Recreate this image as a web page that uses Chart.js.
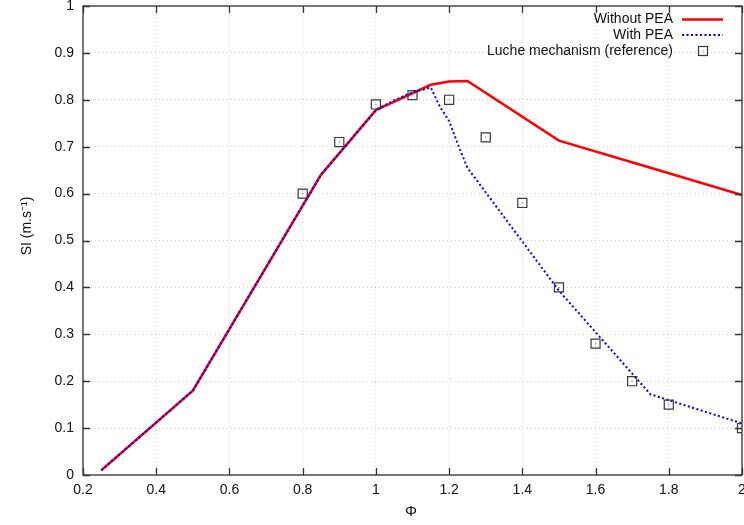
<!DOCTYPE html>
<html><head><meta charset="utf-8">
<script src="https://cdn.jsdelivr.net/npm/chart.js@4/dist/chart.umd.min.js"></script>
<style>html,body{margin:0;padding:0;background:#fff;overflow:hidden}canvas{display:block}</style>
</head><body>
<canvas id="c" width="744" height="525"></canvas>
<script>
// ---- data ----
const phiWithout = [0.25, 0.5, 0.85, 1.0, 1.15, 1.2, 1.25, 1.5, 1.75, 2.0];
const siWithout  = [0.01, 0.18, 0.64, 0.778, 0.832, 0.839, 0.84, 0.713, 0.655, 0.597];
const phiWith = [0.25, 0.5, 0.85, 1.0, 1.05, 1.1, 1.15, 1.175, 1.2, 1.225, 1.25, 1.5, 1.75, 2.0];
const siWith  = [0.01, 0.18, 0.64, 0.778, 0.799, 0.816, 0.826, 0.785, 0.755, 0.703, 0.655, 0.393, 0.172, 0.11];
const phiRef = [0.8, 0.9, 1.0, 1.1, 1.2, 1.3, 1.4, 1.5, 1.6, 1.7, 1.8, 2.0];
const siRef  = [0.60, 0.71, 0.79, 0.81, 0.80, 0.72, 0.58, 0.40, 0.28, 0.20, 0.15, 0.10];
const xTickValues = [0.2, 0.4, 0.6, 0.8, 1.0, 1.2, 1.4, 1.6, 1.8, 2.0];
const xTickLabels = ['0.2', '0.4', '0.6', '0.8', '1', '1.2', '1.4', '1.6', '1.8', '2'];
const yTickValues = [0, 0.1, 0.2, 0.3, 0.4, 0.5, 0.6, 0.7, 0.8, 0.9, 1.0];
const yTickLabels = ['0', '0.1', '0.2', '0.3', '0.4', '0.5', '0.6', '0.7', '0.8', '0.9', '1'];
const seriesNames = ['Without PEA', 'With PEA', 'Luche mechanism (reference)'];
const xTitle = 'Φ';
const yTitle = 'SI (m.s⁻¹)';

const FONT = '"Liberation Sans", Arial, Helvetica, sans-serif';
const TXT = '#111';
const pts = (xs, ys) => xs.map((x, i) => ({x: x, y: ys[i]}));

const RED = 'rgb(255,0,0)';
const BLUE = 'rgb(0,0,255)';
const SQ = '#3a3a3a';

const zeroPad = s => { s.paddingLeft = 0; s.paddingRight = 0; s.paddingTop = 0; s.paddingBottom = 0; };

const decorations = {
  id: 'decorations',
  afterDraw(chart) {
    const ctx = chart.ctx;
    const a = chart.chartArea;
    const xs = chart.scales.x, ys = chart.scales.y;
    ctx.save();
    ctx.strokeStyle = '#333';
    ctx.lineWidth = 1.3;
    ctx.setLineDash([]);
    ctx.strokeRect(a.left, a.top, a.right - a.left, a.bottom - a.top);
    ctx.beginPath();
    xTickValues.forEach(v => {
      const p = Math.round(xs.getPixelForValue(v)) + 0.5;
      ctx.moveTo(p, a.bottom); ctx.lineTo(p, a.bottom - 7);
      ctx.moveTo(p, a.top); ctx.lineTo(p, a.top + 7);
    });
    yTickValues.forEach(v => {
      const p = Math.round(ys.getPixelForValue(v)) + 0.5;
      ctx.moveTo(a.left, p); ctx.lineTo(a.left + 7, p);
      ctx.moveTo(a.right, p); ctx.lineTo(a.right - 7, p);
    });
    ctx.stroke();
    ctx.fillStyle = TXT;
    ctx.font = '15px ' + FONT;
    ctx.textAlign = 'center';
    ctx.textBaseline = 'middle';
    ctx.fillText(xTitle, 411, 512);
    ctx.save();
    ctx.translate(27, 226);
    ctx.rotate(-Math.PI / 2);
    ctx.font = '14px ' + FONT;
    ctx.fillText(yTitle, 0, 0);
    ctx.restore();
    ctx.font = '14px ' + FONT;
    ctx.textAlign = 'right';
    ctx.textBaseline = 'middle';
    const rows = [19, 35, 51];
    rows.forEach((y, i) => ctx.fillText(seriesNames[i], 673, y));
    ctx.lineWidth = 2.5; ctx.strokeStyle = RED;
    ctx.beginPath(); ctx.moveTo(682, 19.5); ctx.lineTo(723, 19.5); ctx.stroke();
    ctx.lineWidth = 2; ctx.strokeStyle = BLUE; ctx.setLineDash([2, 2.5]);
    ctx.beginPath(); ctx.moveTo(682, 35); ctx.lineTo(723, 35); ctx.stroke();
    ctx.setLineDash([]);
    ctx.lineWidth = 1.2; ctx.strokeStyle = SQ;
    ctx.strokeRect(698.5, 46.5, 9, 9);
    ctx.fillStyle = '#777';
    ctx.fillRect(702.5, 50.5, 1, 1);
    ctx.restore();
  }
};

new Chart(document.getElementById('c'), {
  type: 'scatter',
  data: {
    datasets: [
      {
        label: seriesNames[0], data: pts(phiWithout, siWithout), showLine: true,
        borderColor: RED, backgroundColor: RED, borderWidth: 2.5, pointRadius: 0,
        tension: 0, order: 3
      },
      {
        label: seriesNames[1], data: pts(phiWith, siWith), showLine: true,
        borderColor: BLUE, backgroundColor: BLUE, borderWidth: 2, borderDash: [2, 2.5],
        pointRadius: 0, tension: 0, order: 2
      },
      {
        label: seriesNames[2], data: pts(phiRef, siRef), showLine: false,
        pointStyle: 'rect', pointRadius: 6.4, pointBorderWidth: 1.2,
        pointBorderColor: SQ, pointBackgroundColor: 'rgba(0,0,0,0)', order: 1
      },
      {
        label: 'centre', data: pts(phiRef, siRef), showLine: false,
        pointStyle: 'circle', pointRadius: 0.7, pointBorderWidth: 0,
        pointBackgroundColor: '#888', order: 0
      }
    ]
  },
  options: {
    responsive: false,
    animation: false,
    devicePixelRatio: 1,
    layout: { autoPadding: false, padding: { left: 0, right: 2, top: 6, bottom: 0 } },
    plugins: { legend: { display: false }, tooltip: { enabled: false } },
    scales: {
      x: {
        type: 'linear', min: 0.2, max: 2.0,
        afterBuildTicks: s => { s.ticks = xTickValues.map(v => ({value: v})); },
        afterFit: s => { s.height = 50; zeroPad(s); },
        ticks: {
          callback: (v, i) => xTickLabels[i], color: TXT, padding: 7,
          font: { family: FONT, size: 14 }, maxRotation: 0, autoSkip: false
        },
        grid: { color: '#cfcfcf', lineWidth: 1, drawTicks: false },
        border: { display: false, dash: [1, 3] }
      },
      y: {
        type: 'linear', min: 0, max: 1,
        afterBuildTicks: s => { s.ticks = yTickValues.map(v => ({value: v})); },
        afterFit: s => { s.width = 83; zeroPad(s); },
        ticks: {
          callback: (v, i) => yTickLabels[i], color: TXT, padding: 9,
          font: { family: FONT, size: 14 }, autoSkip: false
        },
        grid: { color: '#cfcfcf', lineWidth: 1, drawTicks: false },
        border: { display: false, dash: [1, 3] }
      }
    }
  },
  plugins: [decorations]
});
</script>
</body></html>
